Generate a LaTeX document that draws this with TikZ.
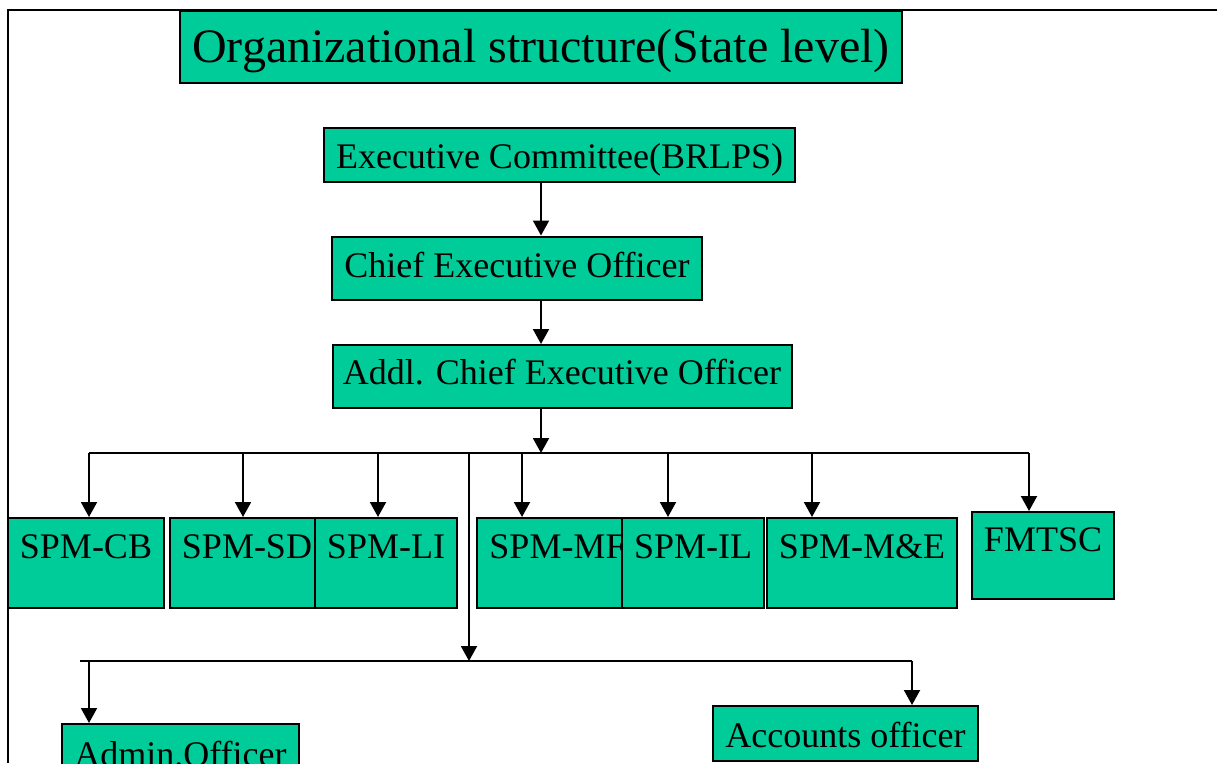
\documentclass[tikz,border=0pt]{standalone}
\usepackage{fontspec}
\setmainfont{Liberation Serif}
\usetikzlibrary{arrows.meta}
\definecolor{boxgreen}{RGB}{0,204,153}

\begin{document}
\begin{tikzpicture}[x=1pt, y=-1pt,
		box/.style={draw, line width=2pt, fill=boxgreen, inner sep=0pt, font=\fontsize{36}{40}\selectfont},
		spmbox/.style={box, anchor=north, text height=40pt, text depth=50pt},
		arr/.style={line width=2pt, -{Triangle[length=15pt, width=16pt]}},
		link/.style={line width=2pt}]
		\useasboundingbox (0,0) rectangle (1217,763);
		\clip (0,0) rectangle (1217,763);
		\draw[link] (8,763) -- (8,10) -- (1217,10);
		
		\coordinate (spine) at (541,0);
		\coordinate (busl) at (89,453);
		\coordinate (busr) at (1029,453);
		\coordinate (mid) at (469,453);
		\coordinate (lowl) at (80,661);
		\coordinate (lowr) at (912,661);
		
		\coordinate (dcb) at (89,453);
		\coordinate (dsd) at (243,453);
		\coordinate (dli) at (378,453);
		\coordinate (dmf) at (522,453);
		\coordinate (dil) at (668,453);
		\coordinate (dme) at (812,453);
		\coordinate (dfm) at (1029,453);
		\coordinate (dad) at (89,661);
		\coordinate (dac) at (912,661);
		
		\node[box, minimum width=722, minimum height=72, text height=34pt, text depth=4pt, font=\fontsize{48}{52}\selectfont] (title) at (541,47) {Organizational structure(State level)};
		
		\node[box, minimum width=471, minimum height=54, text height=30pt, text depth=4pt] (ec) at (559.5,155) {Executive Committee(BRLPS)};
		\node[box, minimum width=370, minimum height=63, text height=25pt, text depth=7pt] (ceo) at (517,268) {Chief Executive Officer};
		\node[box, minimum width=459, minimum height=63, text height=25pt, text depth=10pt] (addl) at (562,376.5) {Addl. Chief Executive Officer};
		
		\draw[arr] (ec.south -| spine) -- (ceo.north -| spine);
		\draw[arr] (ceo.south -| spine) -- (addl.north -| spine);
		\draw[arr] (addl.south -| spine) -- (busl -| spine);
		\draw[link] (busl) -- (busr);
		
		\node[spmbox, minimum width=156] (cb) at (86,517) {SPM-CB};
		\node[spmbox, minimum width=154] (sd) at (247,517) {SPM-SD};
		\node[spmbox, minimum width=142] (li) at (386,517) {SPM-LI};
		\node[spmbox, minimum width=161] (mf) at (557.5,517) {SPM-MF};
		\node[spmbox, minimum width=142] (il) at (693,517) {SPM-IL};
		\node[spmbox, minimum width=190] (me) at (862,517) {SPM-M\&E};
		\node[spmbox, minimum width=142, text height=39pt, text depth=48pt] (fm) at (1043,511) {FMTSC};
		
		\draw[arr] (dcb) -- (dcb |- cb.north);
		\draw[arr] (dsd) -- (dsd |- sd.north);
		\draw[arr] (dli) -- (dli |- li.north);
		\draw[arr] (dmf) -- (dmf |- mf.north);
		\draw[arr] (dil) -- (dil |- il.north);
		\draw[arr] (dme) -- (dme |- me.north);
		\draw[arr] (dfm) -- (dfm |- fm.north);
		
		\draw[arr] (mid) -- (mid |- lowl);
		\draw[link] (lowl) -- (lowr);
		
		\node[box, minimum width=237, minimum height=56, text height=30pt, text depth=2pt] (ad) at (180.5,752) {Admin.Officer};
		\node[box, minimum width=265, minimum height=55, text height=30pt, text depth=3pt] (ac) at (845.5,733.5) {Accounts officer};
		
		\draw[arr] (dad) -- (dad |- ad.north);
		\draw[arr] (dac) -- (dac |- ac.north);
	\end{tikzpicture}
\end{document}
